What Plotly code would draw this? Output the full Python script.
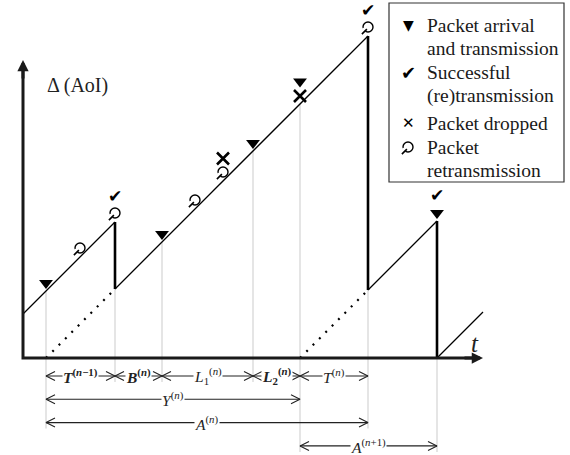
import plotly.graph_objects as go

# ---- timeline (time and age share one unit) ----
aoi_initial = 44                      # age at t = 0
deliveries = [92, 345, 414]           # successful (re)transmission instants
delivered_gen = [23, 277, 414]        # generation time of each delivered packet
t_end = 460

arrivals = [23, 139, 230, 277, 414]   # packet arrival and transmission
retx_times = [57, 92, 172, 200, 345]  # packet retransmissions
drop_times = [200, 277]               # packets dropped

# ---- interval annotations below the time axis ----
span_starts = [23, 92, 139, 230, 277, 23, 23, 277]
span_ends = [92, 139, 230, 277, 345, 277, 345, 414]
span_rows = [0, 0, 0, 0, 0, 1, 2, 3]
span_labels = [
    "<b><i>T</i></b><sup><b>(<i>n</i>−1)</b></sup>",
    "<b><i>B</i></b><sup><b>(<i>n</i>)</b></sup>",
    "<i>L</i><sub>1</sub><sup>(<i>n</i>)</sup>",
    "<b><i>L</i></b><sub><b>2</b></sub><sup><b>(<i>n</i>)</b></sup>",
    "<i>T</i><sup>(<i>n</i>)</sup>",
    "<i>Y</i><sup>(<i>n</i>)</sup>",
    "<i>A</i><sup>(<i>n</i>)</sup>",
    "<i>A</i><sup>(<i>n</i>+1)</sup>",
]

legend_symbols = ["▼", "✔", "✕", "retx"]
legend_lines = [
    ["Packet arrival", "and transmission"],
    ["Successful", "(re)transmission"],
    ["Packet dropped"],
    ["Packet", "retransmission"],
]

SERIF = "Liberation Serif, Times New Roman, serif"
SYM = "DejaVu Sans"
GUIDE = "#d4d4d4"


def aoi(t, after=True):
    """Age of information at time t (after=True: value right after a delivery)."""
    gen = -aoi_initial
    for d, g in zip(deliveries, delivered_gen):
        if t > d or (after and t == d):
            gen = g
    return t - gen


def retx_glyph(xs, ys):
    """Open circle with a small tail: the retransmission symbol."""
    fig.add_trace(go.Scatter(x=xs, y=ys, mode="markers",
                             marker=dict(symbol="circle-open", size=10, color="black",
                                         line=dict(width=1.4)),
                             hoverinfo="skip"))
    # gap in the circle at lower left
    fig.add_trace(go.Scatter(x=[x - 4.0 for x in xs], y=[y - 2.6 for y in ys], mode="markers",
                             marker=dict(symbol="square", size=3.5, color="white"),
                             hoverinfo="skip"))
    fig.add_trace(go.Scatter(x=[x - 3.6 for x in xs], y=[y - 4.6 for y in ys], mode="markers",
                             marker=dict(symbol="line-ne-open", size=5, color="black",
                                         line=dict(width=1.6)),
                             hoverinfo="skip"))


fig = go.Figure()

# light vertical guides from the curve down to the interval arrows
row_y = lambda r: -18 - 23.3 * r
guide_times = sorted(set(arrivals) | set(deliveries))
for t in guide_times:
    rows = [r for s, e, r in zip(span_starts, span_ends, span_rows) if t in (s, e)]
    bottom = row_y(max(rows)) - 6 if rows else row_y(0) - 6
    fig.add_trace(go.Scatter(x=[t, t], y=[aoi(t, after=True), bottom], mode="lines",
                             line=dict(color=GUIDE, width=1.2), hoverinfo="skip"))

# sawtooth: rising segments
bounds = [0] + deliveries + [t_end]
for a, b in zip(bounds[:-1], bounds[1:]):
    fig.add_trace(go.Scatter(x=[a, b], y=[aoi(a, True), aoi(b, False)], mode="lines",
                             line=dict(color="black", width=1.3), hoverinfo="skip"))
# sawtooth: drops at deliveries
for d in deliveries:
    fig.add_trace(go.Scatter(x=[d, d], y=[aoi(d, False), aoi(d, True)], mode="lines",
                             line=dict(color="black", width=2.6), hoverinfo="skip"))
# dotted age of the delivered packet since its generation
for d, g in zip(deliveries, delivered_gen):
    if d > g:
        fig.add_trace(go.Scatter(x=[g, d], y=[0, d - g], mode="lines",
                                 line=dict(color="black", width=2.2, dash="2px,7px"),
                                 hoverinfo="skip"))

# axes with arrows
fig.add_trace(go.Scatter(x=[0, 0, t_end - 6], y=[292, 0, 0], mode="lines",
                         line=dict(color="#1a1a1a", width=3), hoverinfo="skip"))
for (x, y) in [(0, 298), (t_end, 0)]:
    fig.add_annotation(x=x, y=y, ax=0 if x == 0 else x - 20, ay=y - 20 if x == 0 else 0,
                       axref="x", ayref="y", xref="x", yref="y", text="",
                       showarrow=True, arrowhead=2, arrowsize=0.75, arrowwidth=3,
                       arrowcolor="#1a1a1a")

# event symbols stacked above the curve: retx, drop, arrival, delivery
order = [("retx", retx_times), ("drop", drop_times), ("arr", arrivals), ("del", deliveries)]
pos = {k: ([], []) for k, _ in order}
for t in sorted(set(retx_times) | set(drop_times) | set(arrivals) | set(deliveries)):
    base = aoi(t, after=False)
    slot = 0
    for k, times in order:
        if t in times:
            pos[k][0].append(t)
            pos[k][1].append(base + 8 + 14.5 * slot)
            slot += 1

fig.add_trace(go.Scatter(x=pos["arr"][0], y=pos["arr"][1], mode="markers",
                         marker=dict(symbol="triangle-down", size=12, color="black"),
                         hoverinfo="skip"))
fig.add_trace(go.Scatter(x=pos["drop"][0], y=pos["drop"][1], mode="markers",
                         marker=dict(symbol="x-thin", size=12, color="black",
                                     line=dict(width=2.6, color="black")),
                         hoverinfo="skip"))
fig.add_trace(go.Scatter(x=pos["del"][0], y=[v + 1.5 for v in pos["del"][1]], mode="text",
                         text=["✔"] * len(pos["del"][0]),
                         textfont=dict(family=SYM, size=17, color="black"), hoverinfo="skip"))
retx_glyph(pos["retx"][0], [v + 1 for v in pos["retx"][1]])

# interval arrows with open heads
for s, e, r, lab in zip(span_starts, span_ends, span_rows, span_labels):
    y = row_y(r)
    xs = [s + 9, s, s + 9, None, s, e, None, e - 9, e, e - 9]
    ys = [y + 4.5, y, y - 4.5, None, y, y, None, y + 4.5, y, y - 4.5]
    fig.add_trace(go.Scatter(x=xs, y=ys, mode="lines", line=dict(color="#222", width=1.1),
                             hoverinfo="skip"))
    fig.add_annotation(x=(s + e) / 2, y=y, text=lab, showarrow=False, bgcolor="white",
                       borderpad=0, font=dict(family=SERIF, size=15.5, color="#222"))

# axis titles
fig.add_annotation(x=22, y=273, text="Δ (AoI)", showarrow=False, xanchor="left",
                   font=dict(family=SERIF, size=20, color="#222"))
fig.add_annotation(x=452, y=15, text="<i>t</i>", showarrow=False,
                   font=dict(family=SERIF, size=25, color="#222"))

# legend box
fig.add_shape(type="rect", x0=366, x1=541, y0=176, y1=355, xref="x", yref="y",
              line=dict(color="#333", width=1.2), fillcolor="white", layer="below")
entry_tops = [333, 286, 235, 211]
for sym, lines, ytop in zip(legend_symbols, legend_lines, entry_tops):
    if sym == "retx":
        retx_glyph([385], [ytop])
    else:
        size = {"▼": 14, "✔": 18, "✕": 15}[sym]
        fig.add_annotation(x=385, y=ytop, text=sym, showarrow=False,
                           font=dict(family=SYM, size=size, color="black"))
    for i, line in enumerate(lines):
        fig.add_annotation(x=402, y=ytop - 23.5 * i, text=line, showarrow=False,
                           xanchor="left", font=dict(family=SERIF, size=19.5, color="#1a1a1a"))

fig.update_layout(
    width=570, height=455, margin=dict(l=0, r=0, t=0, b=0),
    paper_bgcolor="white", plot_bgcolor="white", showlegend=False,
    xaxis=dict(range=[-23, 547], visible=False, fixedrange=True),
    yaxis=dict(range=[-97, 358], visible=False, fixedrange=True),
)
fig.write_html("out.html")
